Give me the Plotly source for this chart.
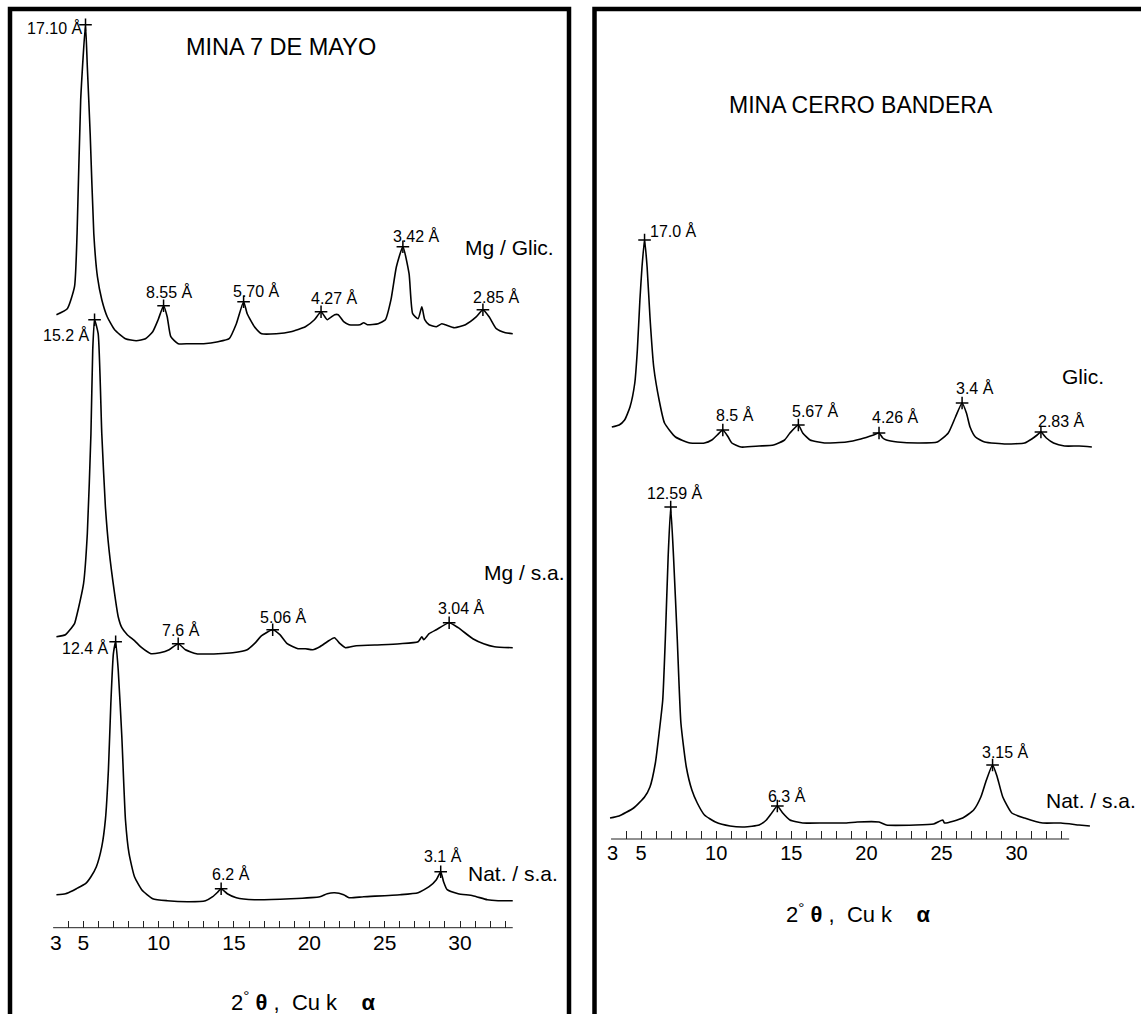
import numpy as np
import plotly.graph_objects as go

W, H = 1141, 1014
FONT = "Liberation Sans, Arial, sans-serif"

# ---------------- DATA ----------------
# Left panel: MINA 7 DE MAYO  (2-theta in degrees, intensity in arbitrary units)
mg_glic_2theta = [3.22, 3.94, 4.42, 4.59, 4.83, 5.15, 5.27, 5.46, 5.70, 5.94, 6.23, 6.59, 7.08, 7.80, 8.52,
                  9.13, 9.61, 9.97, 10.33, 10.57, 10.81, 11.30, 12.02, 12.99, 13.95, 14.68, 15.16, 15.64,
                  15.88, 16.36, 16.84, 17.81, 18.77, 19.74, 20.34, 20.78, 21.19, 21.68, 21.92, 22.28, 22.64,
                  23.36, 23.61, 23.85, 24.57, 25.05, 25.42, 25.78, 26.21, 26.62, 26.86, 27.22, 27.47, 27.66,
                  27.95, 28.43, 28.79, 29.03, 29.64, 30.36, 31.09, 31.52, 31.93, 32.41, 33.01, 33.50]
mg_glic_int = [29, 35, 57, 110, 244, 319, 277, 210, 110, 67, 44, 27, 14, 5, 3,
               5, 12, 24, 38, 27, 7, 0, 0, 0, 2, 5, 20, 42,
               30, 17, 10, 10, 12, 17, 24, 32, 24, 29, 29, 22, 19,
               19, 21, 19, 20, 24, 44, 77, 97, 70, 30, 25, 37, 24,
               19, 17, 20, 19, 16, 19, 27, 34, 27, 15, 11, 10]
mg_glic_peaks = [5.15, 10.33, 15.64, 20.78, 26.21, 31.52]
mg_glic_labels = ["17.10 Å", "8.55 Å", "5.70 Å", "4.27 Å", "3.42 Å", "2.85 Å"]

mg_sa_2theta = [3.22, 3.82, 4.18, 4.42, 4.66, 5.02, 5.27, 5.51, 5.63, 5.75, 5.99, 6.23, 6.47, 6.71, 7.08,
                7.32, 7.56, 7.92, 8.40, 8.88, 9.49, 10.09, 10.70, 11.30, 11.78, 12.51, 13.95, 14.92, 15.88,
                16.36, 16.84, 17.57, 18.05, 18.53, 19.25, 19.74, 20.22, 20.70, 21.19, 21.67, 22.04, 22.40,
                23.12, 24.81, 26.02, 27.22, 27.47, 27.59, 27.95, 28.43, 29.28, 29.88, 30.85, 31.57, 32.29,
                33.50]
mg_sa_int = [18, 20, 26, 31, 45, 71, 121, 221, 305, 335, 321, 221, 148, 105, 61,
             38, 27, 20, 14, 7, 1, 2, 5, 11, 5, 1, 1, 2, 5,
             11, 19, 25, 20, 11, 6, 6, 5, 8, 13, 17, 11, 7,
             9, 10, 11, 13, 18, 15, 21, 25, 32, 27, 16, 11, 8,
             7]
mg_sa_peaks = [5.75, 11.30, 17.57, 29.28]
mg_sa_labels = ["15.2 Å", "7.6 Å", "5.06 Å", "3.04 Å"]

nat_l_2theta = [3.22, 3.82, 4.30, 4.54, 5.15, 5.51, 5.87, 6.23, 6.47, 6.67, 6.83, 7.00, 7.15, 7.32, 7.56,
                7.80, 8.04, 8.40, 8.88, 9.61, 10.57, 12.02, 13.11, 13.59, 13.95, 14.15, 14.56, 15.16, 16.36,
                18.77, 20.70, 21.19, 21.68, 22.28, 22.64, 23.61, 26.02, 27.22, 27.95, 28.43, 28.72, 28.91,
                29.15, 29.88, 30.85, 31.81, 32.53, 33.50]
nat_l_int = [7, 8, 11, 13, 18, 25, 35, 55, 82, 132, 198, 248, 260, 232, 165,
             82, 48, 25, 12, 3, 1, 0, 1, 5, 10, 13, 8, 4, 2,
             3, 5, 8, 9, 7, 4, 5, 7, 9, 15, 22, 30, 20,
             12, 8, 6, 2, 1, 1]
nat_l_peaks = [7.15, 14.15, 28.72]
nat_l_labels = ["12.4 Å", "6.2 Å", "3.1 Å"]

# Right panel: MINA CERRO BANDERA
glic_r_2theta = [3.05, 3.54, 3.90, 4.26, 4.58, 4.75, 4.92, 5.06, 5.23, 5.40, 5.59, 5.84, 6.20, 6.56, 7.29,
                 8.26, 9.22, 9.71, 10.07, 10.44, 10.80, 11.04, 11.65, 12.86, 13.82, 14.55, 14.91, 15.47,
                 15.76, 16.25, 17.21, 18.67, 19.63, 20.48, 20.84, 21.09, 21.33, 22.06, 23.51, 24.72, 25.45,
                 25.93, 26.37, 26.66, 26.90, 27.26, 27.87, 29.32, 30.53, 31.01, 31.37, 31.62, 31.98, 32.46,
                 33.19, 34.16, 35.01]
glic_r_int = [22, 24, 29, 42, 66, 99, 149, 182, 209, 182, 132, 82, 49, 26, 12,
              6, 6, 9, 14, 19, 12, 6, 2, 3, 4, 9, 16, 24,
              16, 9, 6, 7, 10, 14, 16, 11, 9, 7, 6, 7, 16,
              32, 46, 36, 22, 12, 7, 5, 6, 10, 14, 17, 11, 6,
              3, 3, 2]
glic_r_peaks = [5.23, 10.44, 15.47, 20.84, 26.37, 31.62]
glic_r_labels = ["17.0 Å", "8.5 Å", "5.67 Å", "4.26 Å", "3.4 Å", "2.83 Å"]

nat_r_2theta = [2.93, 3.53, 4.50, 5.23, 5.59, 5.95, 6.20, 6.44, 6.61, 6.80, 6.97, 7.16, 7.41, 7.65, 8.01,
                8.38, 8.74, 9.22, 9.95, 10.92, 11.89, 12.86, 13.34, 13.70, 14.07, 14.43, 14.91, 15.76,
                17.21, 18.67, 19.39, 20.84, 21.33, 23.27, 24.48, 25.08, 25.20, 26.41, 27.14, 27.62, 27.99,
                28.40, 28.71, 29.08, 29.68, 30.53, 31.74, 32.95, 34.16, 34.88]
nat_r_int = [9, 11, 19, 30, 40, 64, 94, 127, 187, 270, 320, 270, 187, 104, 60,
             37, 24, 12, 5, 1, 0, 2, 7, 14, 21, 14, 7, 4,
             4, 4, 5, 5, 2, 2, 3, 7, 4, 9, 17, 30, 47,
             62, 50, 30, 14, 9, 4, 4, 2, 1]
nat_r_peaks = [6.97, 14.07, 28.40]
nat_r_labels = ["12.59 Å", "6.3 Å", "3.15 Å"]

tick_values = list(range(4, 34))
tick_labels = [str(v) if v % 5 == 0 else "" for v in tick_values]

# ---------------- LAYOUT CONSTANTS (pixels) ----------------
L_X10, L_PPD, L_AXIS_Y = 158.6, 15.07, 927.7
R_X10, R_PPD, R_AXIS_Y = 716.2, 15.02, 839.0
L_RANGE = [2, 37.3]
R_RANGE = [2, 38.2]


def dom(x10, ppd, rng):
    return [(x10 + ppd * (rng[0] - 10)) / W, (x10 + ppd * (rng[1] - 10)) / W]


fig = go.Figure()


def add_pattern(x, inten, offset, xa, ya, peaks, labels, styles):
    y = np.array(inten, dtype=float) + offset
    fig.add_trace(go.Scatter(x=x, y=y, mode="lines",
                             line=dict(color="black", width=1.6, shape="spline", smoothing=0.5),
                             xaxis=xa, yaxis=ya, showlegend=False, hoverinfo="skip"))
    py = np.interp(peaks, x, y)
    fig.add_trace(go.Scatter(x=peaks, y=py, mode="markers",
                             marker=dict(symbol="cross-thin", size=9, color="black",
                                         line=dict(color="black", width=1.5)),
                             xaxis=xa, yaxis=ya, showlegend=False, hoverinfo="skip"))
    for pxv, pyv, lab, (xs, ys, anc) in zip(peaks, py, labels, styles):
        fig.add_annotation(x=pxv, y=pyv, xref=xa, yref=ya, text=lab, showarrow=False,
                           xshift=xs, yshift=ys, xanchor=anc, yanchor="middle",
                           font=dict(size=16, color="black", family=FONT))


# left panel patterns
add_pattern(mg_glic_2theta, mg_glic_int, 584, "x", "y", mg_glic_peaks, mg_glic_labels,
            [(-2, -3, "right"), (5.5, 14, "center"), (13, 11, "center"), (13.4, 14, "center"),
             (13.5, 11, "center"), (13.5, 13, "center")])
add_pattern(mg_sa_2theta, mg_sa_int, 273, "x", "y", mg_sa_peaks, mg_sa_labels,
            [(-3, -15, "right"), (2.8, 14, "center"), (11, 13, "center"), (12, 15, "center")])
add_pattern(nat_l_2theta, nat_l_int, 26, "x", "y", nat_l_peaks, nat_l_labels,
            [(-4.5, -6, "right"), (10, 15, "center"), (2, 16, "center")])
# right panel patterns
add_pattern(glic_r_2theta, glic_r_int, 390, "x2", "y2", glic_r_peaks, glic_r_labels,
            [(3, 9, "left"), (12, 15, "center"), (17, 14, "center"), (16, 16, "center"),
             (12.5, 15, "center"), (20.6, 11, "center")])
add_pattern(nat_r_2theta, nat_r_int, 12, "x2", "y2", nat_r_peaks, nat_r_labels,
            [(4, 14, "center"), (9.6, 10, "center"), (13, 13, "center")])

# sample treatment labels
for txt, xv, yv, xa, ya in [("Mg / Glic.", 36.27, 584 + 96, "x", "y"),
                            ("Mg / s.a.", 37.0, 273 + 82, "x", "y"),
                            ("Nat. / s.a.", 36.5, 26 + 28, "x", "y"),
                            ("Glic.", 35.85, 390 + 73, "x2", "y2"),
                            ("Nat. / s.a.", 37.92, 12 + 27, "x2", "y2")]:
    fig.add_annotation(x=xv, y=yv, xref=xa, yref=ya, text=txt, showarrow=False,
                       xanchor="right", yanchor="middle", xshift=2,
                       font=dict(size=21, color="black", family=FONT))

# titles
fig.add_annotation(x=281 / W, y=1 - 47.5 / H, xref="paper", yref="paper", text="MINA 7 DE MAYO",
                   showarrow=False, xanchor="center", yanchor="middle",
                   font=dict(size=23.5, color="black", family=FONT))
fig.add_annotation(x=861 / W, y=1 - 105 / H, xref="paper", yref="paper", text="MINA CERRO BANDERA",
                   showarrow=False, xanchor="center", yanchor="middle",
                   font=dict(size=23, color="black", family=FONT))

# axis titles
NB = "\u00a0"
axtitle = ("2<sup>°</sup>" + NB + "<b>θ</b>" + NB + "," + NB * 2 + "Cu" + NB + "k" + NB * 4
           + "<b>α</b>")
fig.add_annotation(x=303.6 / W, y=1 - 1001 / H, xref="paper", yref="paper", text=axtitle,
                   showarrow=False, xanchor="center", yanchor="middle",
                   font=dict(size=22, color="black", family=FONT))
fig.add_annotation(x=858 / W, y=1 - 913 / H, xref="paper", yref="paper", text=axtitle,
                   showarrow=False, xanchor="center", yanchor="middle",
                   font=dict(size=22, color="black", family=FONT))

# "3" labels at the axis start
fig.add_annotation(x=3, xref="x", y=1 - 942 / H, yref="paper", text="3", showarrow=False,
                   xanchor="center", yanchor="middle", xshift=3,
                   font=dict(size=21, color="black", family=FONT))
fig.add_annotation(x=3, xref="x2", y=1 - 853 / H, yref="paper", text="3", showarrow=False,
                   xanchor="center", yanchor="middle", xshift=1,
                   font=dict(size=20, color="black", family=FONT))

# axis base lines (3 to 33.5 degrees)
shapes = [
    dict(type="line", xref="x", yref="paper", x0=3, x1=33.5, y0=1 - L_AXIS_Y / H, y1=1 - L_AXIS_Y / H,
         line=dict(color="#222", width=1)),
    dict(type="line", xref="x2", yref="paper", x0=3, x1=33.5, y0=1 - R_AXIS_Y / H, y1=1 - R_AXIS_Y / H,
         line=dict(color="#222", width=1)),
    # panel frames
    dict(type="path", xref="paper", yref="paper",
         path=f"M {10 / W},{-0.01} L {10 / W},{1 - 9 / H} L {569 / W},{1 - 9 / H} L {569 / W},{-0.01}",
         line=dict(color="black", width=4.5)),
    dict(type="path", xref="paper", yref="paper",
         path=f"M {594.5 / W},{-0.01} L {594.5 / W},{1 - 9 / H} L {1.01},{1 - 9 / H}",
         line=dict(color="black", width=4.5)),
]

axis_common = dict(showgrid=False, zeroline=False, showline=False, ticks="inside",
                   tickvals=tick_values, ticktext=tick_labels, tickwidth=1, tickcolor="#222",
                   fixedrange=True)

fig.update_layout(
    width=W, height=H,
    margin=dict(l=0, r=0, t=0, b=0, pad=0),
    paper_bgcolor="white", plot_bgcolor="white",
    font=dict(family=FONT, color="black"),
    showlegend=False,
    shapes=shapes,
    xaxis=dict(domain=dom(L_X10, L_PPD, L_RANGE), range=L_RANGE, anchor="y", ticklen=7,
               tickfont=dict(size=21, color="black", family=FONT), **axis_common),
    yaxis=dict(domain=[1 - L_AXIS_Y / H, 1], range=[0, L_AXIS_Y], anchor="x", visible=False,
               fixedrange=True),
    xaxis2=dict(domain=dom(R_X10, R_PPD, R_RANGE), range=R_RANGE, anchor="y2", ticklen=8,
                tickfont=dict(size=20, color="black", family=FONT), **axis_common),
    yaxis2=dict(domain=[1 - R_AXIS_Y / H, 1], range=[0, R_AXIS_Y], anchor="x2", visible=False,
                fixedrange=True),
)

fig.write_html("out.html", config={"displayModeBar": False},
               post_script="document.body.style.margin='0px';document.body.style.overflow='hidden';")
